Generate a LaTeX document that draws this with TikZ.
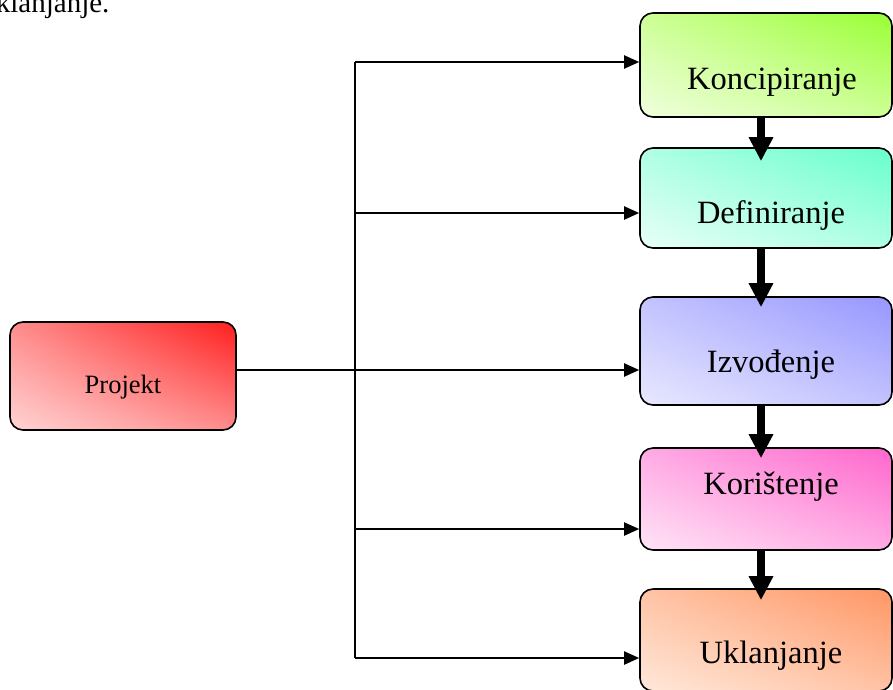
\documentclass[tikz,border=0pt]{standalone}
\usepackage{fontspec}
\setmainfont{Liberation Serif}
\usetikzlibrary{arrows.meta,calc,shadings}

\begin{document}
\begin{tikzpicture}[x=1pt,y=-1pt,
  phase/.style={draw=black, line width=1.6pt, rounded corners=13pt,
    minimum width=252pt, inner sep=0pt},
  lbl/.style={font=\fontsize{32.5}{32.5}\selectfont, anchor=base},
  feed/.style={line width=2pt, -{Triangle[length=15pt,width=13pt]}},
  flow/.style={line width=7.5pt, -{Triangle[length=24pt,width=23pt]}}]

\useasboundingbox (0,0) rectangle (893,689);

% line of running text above the diagram, cut by the page edge
\begin{scope}
  \clip (0,0) rectangle (893,689);
  \node[lbl, anchor=base east, font=\fontsize{29}{29}\selectfont] (txt) at (113,12) {uklanjanje.};
\end{scope}

% phase boxes (shaded from pale lower left to saturated upper right)
\node[phase, minimum height=104pt,
  upper right={rgb,255:red,153;green,255;blue,51}, upper left={rgb,255:red,205;green,255;blue,150},
  lower right={rgb,255:red,205;green,255;blue,150}, lower left={rgb,255:red,240;green,255;blue,222}]
  (kon) at (766,65) {};
\node[phase, minimum height=100pt,
  upper right={rgb,255:red,102;green,255;blue,204}, upper left={rgb,255:red,175;green,255;blue,228},
  lower right={rgb,255:red,175;green,255;blue,228}, lower left={rgb,255:red,232;green,255;blue,246}]
  (def) at (766,198) {};
\node[phase, minimum height=108pt,
  upper right={rgb,255:red,150;green,150;blue,255}, upper left={rgb,255:red,195;green,195;blue,255},
  lower right={rgb,255:red,195;green,195;blue,255}, lower left={rgb,255:red,232;green,232;blue,255}]
  (izv) at (766,351) {};
\node[phase, minimum height=102pt,
  upper right={rgb,255:red,255;green,102;blue,204}, upper left={rgb,255:red,255;green,170;blue,228},
  lower right={rgb,255:red,255;green,170;blue,228}, lower left={rgb,255:red,255;green,228;blue,246}]
  (kor) at (766,499) {};
\node[phase, minimum height=102pt,
  upper right={rgb,255:red,255;green,150;blue,100}, upper left={rgb,255:red,255;green,195;blue,165},
  lower right={rgb,255:red,255;green,195;blue,165}, lower left={rgb,255:red,255;green,232;blue,218}]
  (ukl) at (766,640) {};

\node[phase, minimum width=226pt, minimum height=108pt,
  upper right={rgb,255:red,255;green,30;blue,30}, upper left={rgb,255:red,255;green,140;blue,140},
  lower right={rgb,255:red,255;green,140;blue,140}, lower left={rgb,255:red,255;green,212;blue,212}]
  (pro) at (123,376) {};

% labels
\node[lbl] (tkon) at (772,89)  {Koncipiranje};
\node[lbl] (tdef) at (771,223) {Definiranje};
\node[lbl] (tizv) at (771,372) {Izvođenje};
\node[lbl] (tkor) at (771,494) {Korištenje};
\node[lbl] (tukl) at (771,663) {Uklanjanje};
\node[lbl, font=\fontsize{26.5}{26.5}\selectfont] (tpro) at (123,393) {Projekt};

% distribution trunk
\coordinate (t1) at (355,62);
\coordinate (t2) at (355,213);
\coordinate (t3) at (355,370);
\coordinate (t4) at (355,529);
\coordinate (t5) at (355,658);

\draw[line width=2pt] (t1) -- (t5);
\draw[line width=2pt] (pro.east |- t3) -- (t3);
\draw[feed] (t1) -- (t1 -| kon.west);
\draw[feed] (t2) -- (t2 -| def.west);
\draw[feed] (t3) -- (t3 -| izv.west);
\draw[feed] (t4) -- (t4 -| kor.west);
\draw[feed] (t5) -- (t5 -| ukl.west);

% sequence between phases
\draw[flow] (kon.south -| 761,0) -- ($(def.north -| 761,0)+(0,14)$);
\draw[flow] (def.south -| 761,0) -- ($(izv.north -| 761,0)+(0,11)$);
\draw[flow] (izv.south -| 761,0) -- ($(kor.north -| 761,0)+(0,11)$);
\draw[flow] (kor.south -| 761,0) -- ($(ukl.north -| 761,0)+(0,12)$);
\end{tikzpicture}
\end{document}
